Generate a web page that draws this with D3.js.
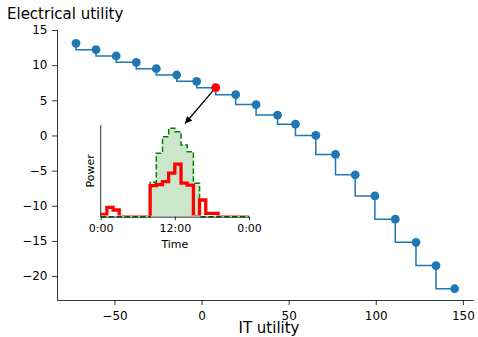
<!DOCTYPE html>
<meta charset="utf-8">
<script src="https://d3js.org/d3.v7.min.js"></script>
<style>
  body { margin: 0; background: #fff; }
  text { font-family: "DejaVu Sans", sans-serif; fill: #000; }
</style>
<div id="my_dataviz"></div>
<script>

// trade-off points: IT utility vs electrical utility
var itUtility = [-72.1, -60.6, -49.0, -37.5, -26.0, -14.3, -2.8, 8.1, 19.6, 31.3,
                 43.6, 53.9, 65.6, 76.9, 88.2, 99.5, 111.2, 123.1, 134.6, 145.3];
var elUtility = [13.1, 12.2, 11.3, 10.4, 9.5, 8.6, 7.7, 6.8, 5.8, 4.4,
                 2.9, 1.6, 0.0, -2.7, -5.6, -8.6, -11.9, -15.2, -18.5, -21.8];
var selectedIndex = 7;
var arrowTarget = [-9.5, 1.7];   // where the annotation arrow points (data units)

var xTicks = [-50, 0, 50, 100, 150];
var yTicks = [-20, -15, -10, -5, 0, 5, 10, 15];

// inset: power profile of the selected point over one day (hourly)
var hours = [0, 1, 2, 3, 4, 5, 6, 7, 8, 9, 10, 11, 12, 13, 14, 15, 16, 17, 18, 19, 20, 21, 22, 23, 24];
var greenPower = [0, 0, 0, 0, 0, 0, 0, 0, 3.44, 6.34, 8.0, 8.84, 8.5, 7.17, 6.5, 3.34,
                  0, 0, 0, 0, 0, 0, 0, 0];
var redPower = [0.24, 0.94, 0.67, 0, 0, 0, 0, 0, 3.1, 3.2, 3.5, 4.35, 5.25, 3.35, 3.15, 0,
                1.67, 0.34, 0.34, 0, 0, 0, 0, 0];
var insetTicks = [0, 12, 24];
var insetTickLabels = ["0:00", "12:00", "0:00"];

var W = 478, H = 337;
var svg = d3.select("#my_dataviz")
  .append("svg")
    .attr("width", W)
    .attr("height", H);

// main axes
var x = d3.scaleLinear().domain([-83, 156]).range([57, 473.3]);
var y = d3.scaleLinear().domain([-23.4, 15.07]).range([300, 29.5]);

var gx = svg.append("g")
    .attr("transform", "translate(0," + y.range()[0] + ")")
    .call(d3.axisBottom(x).tickValues(xTicks).tickSize(5).tickSizeOuter(0).tickPadding(6.5));
var gy = svg.append("g")
    .attr("transform", "translate(" + x.range()[0] + ",0)")
    .call(d3.axisLeft(y).tickValues(yTicks).tickSize(5).tickSizeOuter(0).tickPadding(4.5));
[gx, gy].forEach(function(g) {
  g.selectAll("text").style("font-size", "12px").style("font-family", "DejaVu Sans");
  g.select(".domain").attr("stroke", "#000").attr("stroke-width", 0.8);
  g.selectAll(".tick line").attr("stroke", "#000").attr("stroke-width", 0.8);
});

svg.append("text")
    .attr("x", 7).attr("y", 19.3)
    .style("font-size", "15px")
    .text("Electrical utility");
svg.append("text")
    .attr("x", 269).attr("y", 333)
    .attr("text-anchor", "middle")
    .style("font-size", "15px")
    .text("IT utility");

var pts = itUtility.map(function(d, i) { return [d, elUtility[i]]; });

// step line (value changes before x)
svg.append("path")
    .datum(pts)
    .attr("fill", "none")
    .attr("stroke", "#1f77b4")
    .attr("stroke-width", 1.5)
    .attr("d", d3.line().curve(d3.curveStepBefore)
      .x(function(d) { return x(d[0]); })
      .y(function(d) { return y(d[1]); }));

// arrow from the selected point to the inset
svg.append("defs").append("marker")
    .attr("id", "head")
    .attr("viewBox", "0 0 10 10")
    .attr("refX", 10).attr("refY", 5)
    .attr("markerWidth", 9).attr("markerHeight", 7)
    .attr("markerUnits", "userSpaceOnUse")
    .attr("orient", "auto")
  .append("path")
    .attr("d", "M0,0 L10,5 L0,10 z")
    .attr("fill", "#000");

var sel = pts[selectedIndex];
var ax0 = x(sel[0]), ay0 = y(sel[1]), ax1 = x(arrowTarget[0]), ay1 = y(arrowTarget[1]);
var alen = Math.sqrt((ax1 - ax0) * (ax1 - ax0) + (ay1 - ay0) * (ay1 - ay0));
svg.append("line")
    .attr("x1", ax0 + (ax1 - ax0) * 3 / alen)
    .attr("y1", ay0 + (ay1 - ay0) * 3 / alen)
    .attr("x2", ax1).attr("y2", ay1)
    .attr("stroke", "#000")
    .attr("stroke-width", 1.3)
    .attr("marker-end", "url(#head)");

svg.selectAll("circle.pt")
    .data(pts)
    .enter()
    .append("circle")
      .attr("class", "pt")
      .attr("cx", function(d) { return x(d[0]); })
      .attr("cy", function(d) { return y(d[1]); })
      .attr("r", 4.4)
      .attr("fill", function(d, i) { return i === selectedIndex ? "#ff0000" : "#1f77b4"; });

// ---- inset ----
var ix = d3.scaleLinear().domain([0, 24]).range([100.7, 249]);
var iy = d3.scaleLinear().domain([0, 9.17]).range([216.7, 125]);
var inset = svg.append("g");

function stepPts(vals) {
  return hours.map(function(h, i) { return [h, vals[Math.min(i, vals.length - 1)]]; });
}

inset.append("clipPath").attr("id", "redclip")
  .append("rect")
    .attr("x", ix.range()[0] - 5).attr("y", iy.range()[1] - 10)
    .attr("width", ix.range()[1] - ix.range()[0] + 10)
    .attr("height", iy.range()[0] - iy.range()[1] + 10 - 1.2);

inset.append("path")
    .datum(stepPts(greenPower))
    .attr("fill", "#008000")
    .attr("fill-opacity", 0.2)
    .attr("d", d3.area().curve(d3.curveStepAfter)
      .x(function(d) { return ix(d[0]); })
      .y0(iy(0))
      .y1(function(d) { return iy(d[1]); }));
inset.append("path")
    .datum(stepPts(greenPower))
    .attr("fill", "none")
    .attr("stroke", "#008000")
    .attr("stroke-width", 1.5)
    .attr("stroke-dasharray", "5.5,2.4")
    .attr("d", d3.line().curve(d3.curveStepAfter)
      .x(function(d) { return ix(d[0]); })
      .y(function(d) { return iy(d[1]); }));
inset.append("path")
    .datum(stepPts(redPower))
    .attr("clip-path", "url(#redclip)")
    .attr("fill", "none")
    .attr("stroke", "#ff0000")
    .attr("stroke-width", 3.3)
    .attr("d", d3.line().curve(d3.curveStepAfter)
      .x(function(d) { return ix(d[0]); })
      .y(function(d) { return iy(d[1]); }));

var igx = inset.append("g")
    .attr("transform", "translate(0," + iy.range()[0] + ")")
    .call(d3.axisBottom(ix).tickValues(insetTicks).tickSize(3.5).tickSizeOuter(0).tickPadding(4.5)
      .tickFormat(function(d, i) { return insetTickLabels[i]; }));
igx.selectAll("text").style("font-size", "11px").style("font-family", "DejaVu Sans");
igx.select(".domain").attr("stroke", "#000").attr("stroke-width", 0.8);
igx.selectAll(".tick line").attr("stroke", "#000").attr("stroke-width", 0.8);

inset.append("line")
    .attr("x1", ix.range()[0]).attr("x2", ix.range()[0])
    .attr("y1", iy.range()[0]).attr("y2", iy.range()[1])
    .attr("stroke", "#000").attr("stroke-width", 0.8);

inset.append("text")
    .attr("x", (ix.range()[0] + ix.range()[1]) / 2).attr("y", 247.5)
    .attr("text-anchor", "middle")
    .style("font-size", "11px")
    .text("Time");
inset.append("text")
    .attr("transform", "translate(94," + (iy.range()[0] + iy.range()[1]) / 2 + ") rotate(-90)")
    .attr("text-anchor", "middle")
    .style("font-size", "11px")
    .text("Power");

</script>
